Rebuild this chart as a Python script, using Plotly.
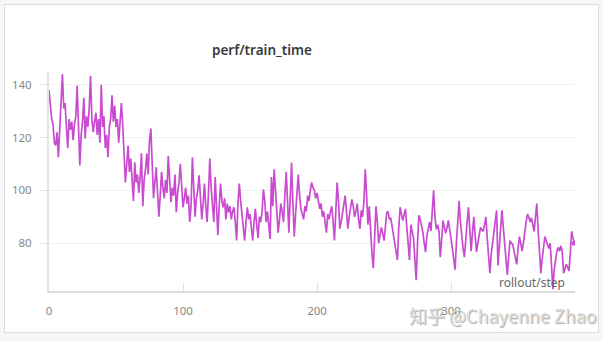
import plotly.graph_objects as go

train_time = [
    138, 131, 127, 125, 118, 117, 122, 112.5, 124, 133,
    144, 131, 133, 124, 116, 127, 123, 126, 119, 125,
    128, 139.6, 125, 109.4, 121, 126, 135, 119.6, 128, 124,
    131, 143.4, 127, 122, 126, 129.4, 121, 127, 118, 140,
    124, 128, 116, 121, 112.5, 124, 127, 136, 126, 132,
    124, 127, 118, 124, 133, 125, 114, 103, 110, 117,
    107, 112, 104, 96, 110.6, 103, 106, 99, 105, 114,
    94, 104, 108, 114, 106, 119, 123.4, 110, 97, 103,
    108.7, 99, 90, 98, 107, 101, 97, 104, 99, 113,
    103, 95.5, 101, 98, 106, 91.7, 99, 103, 110, 100,
    93.6, 97, 101, 95, 98, 88, 94, 112.5, 98, 90,
    97, 100, 105.7, 96, 89, 95, 102.6, 94, 88, 99,
    112, 101, 94, 88, 105, 92, 83, 94, 102.6, 96,
    93.6, 97, 89, 95, 91.7, 94, 89, 92, 93.6, 88,
    81, 95, 102.6, 96, 90, 87, 81, 88, 93.6, 89,
    91, 86, 81, 88, 93, 87, 82, 90, 88, 92,
    100.4, 96, 88, 92, 86, 81.6, 105, 94, 108, 99,
    91, 84, 89, 95, 92, 88, 98, 107, 96, 84,
    97, 110.5, 95, 82.5, 91, 100, 106, 98, 93, 91,
    89, 94, 92, 98, 96, 100, 103, 101, 100, 97,
    99, 96, 93, 95, 90, 92, 88, 84, 91, 89,
    92, 94, 88, 81, 92, 103, 96, 85.5, 88, 91,
    94, 98, 92, 85.5, 90, 93, 96.6, 94, 90, 92,
    95, 89, 85.5, 92.4, 90, 96, 108, 98, 87, 94,
    84, 76, 70.5, 82, 94, 88, 80, 83, 86, 83.7,
    81, 86, 91.5, 92, 89, 89.6, 86, 84, 80, 76,
    73.6, 86, 93.6, 91, 88.6, 91, 93, 86, 78, 73.6,
    87, 85, 82, 74, 66, 80, 90.6, 89, 87, 84,
    80, 76.6, 83, 86, 88, 84.6, 92, 100, 90, 85.3,
    87, 84.6, 74.7, 82, 88.6, 86, 83.7, 86, 88.6, 85,
    82, 78, 74, 70, 80, 90, 96, 88, 82, 78,
    74.7, 80, 88, 93.6, 86, 77, 84, 90, 83, 76.7,
    80, 84, 86, 85, 84.5, 87, 90, 82, 74, 68.6,
    76, 80, 84.5, 88, 92.4, 71.6, 78, 86, 92.4, 86,
    79, 73, 68, 75, 81, 80, 79.6, 77, 75, 72,
    78, 82.5, 80, 77, 80, 85, 88, 91, 90, 88,
    89.6, 87, 84.5, 90, 95, 85, 77, 68.6, 74, 78,
    82.5, 81, 79, 78, 80, 71, 62.6, 70, 74, 77,
    78.5, 77, 79, 76.6, 68.6, 70, 72, 71, 69.5, 76,
    84.5, 82, 80,
]
steps = list(range(len(train_time)))

x_ticks = [0, 100, 200, 300]
y_ticks = [80, 100, 120, 140]

title_text = "perf/train_time"
x_label = "rollout/step"
watermark = "知乎 @Chayenne Zhao"

LINE = "#c94bd0"

fig = go.Figure()
fig.add_trace(go.Scatter(
    x=steps, y=train_time, mode="lines",
    line=dict(color=LINE, width=1.7),
    hoverinfo="skip", showlegend=False,
))
fig.add_trace(go.Scatter(
    x=[steps[-1]], y=[train_time[-1]], mode="markers",
    marker=dict(color=LINE, size=5),
    hoverinfo="skip", showlegend=False,
))

L, R, T, B = 49, 28, 72, 50
W, H = 603, 341
pw = W - L - R
ph = H - T - B

def px_x(px):
    return (px - L) / pw

def px_y(py):
    return (H - B - py) / ph

fig.update_layout(
    width=W, height=H,
    margin=dict(l=L, r=R, t=T, b=B),
    paper_bgcolor="#f7f7f7",
    plot_bgcolor="white",
    font=dict(family="Noto Sans, sans-serif", color="#8a8a8a", size=11),
    xaxis=dict(
        range=[0, 392.5], tickvals=x_ticks, showgrid=False,
        zeroline=False, showline=True, linecolor="#dddddd", linewidth=2,
        ticks="inside", ticklen=8, tickcolor="#dddddd", tickwidth=1,
        ticklabelstandoff=8, tickfont=dict(size=11.5, color="#888888"),
    ),
    yaxis=dict(
        range=[61.9, 144.8], tickvals=y_ticks, showgrid=True,
        gridcolor="#f1f1f1", gridwidth=1, zeroline=False,
        showline=True, linecolor="#e4e4e4", linewidth=2,
        ticks="outside", ticklen=7, tickcolor="#e4e4e4", tickwidth=1,
        ticklabelstandoff=6, tickfont=dict(size=11.5, color="#888888"),
    ),
    shapes=[dict(
        type="rect", xref="paper", yref="paper", layer="below",
        x0=px_x(4.5), x1=px_x(598.5), y0=px_y(332.5), y1=px_y(4.5),
        line=dict(color="#dcdcdc", width=1), fillcolor="white",
    )],
    annotations=[
        dict(text=title_text, xref="paper", yref="paper",
             x=px_x(262), y=px_y(50), xanchor="center", yanchor="middle",
             showarrow=False,
             font=dict(size=13.5, color="#3a3a3a", weight=600,
                       family="Noto Sans, sans-serif")),
        dict(text=x_label, xref="paper", yref="paper",
             x=px_x(567), y=px_y(282), xanchor="right", yanchor="middle",
             showarrow=False, font=dict(size=12, color="#666666")),
        dict(text=watermark, xref="paper", yref="paper",
             x=px_x(599), y=px_y(315), xanchor="right", yanchor="middle",
             showarrow=False,
             font=dict(size=18, color="rgba(225,225,225,0.95)",
                       family="Noto Sans CJK SC, Noto Sans, sans-serif",
                       shadow="1px 1px 1px rgba(80,80,80,0.55)")),
    ],
)

fig.write_html("out.html")
